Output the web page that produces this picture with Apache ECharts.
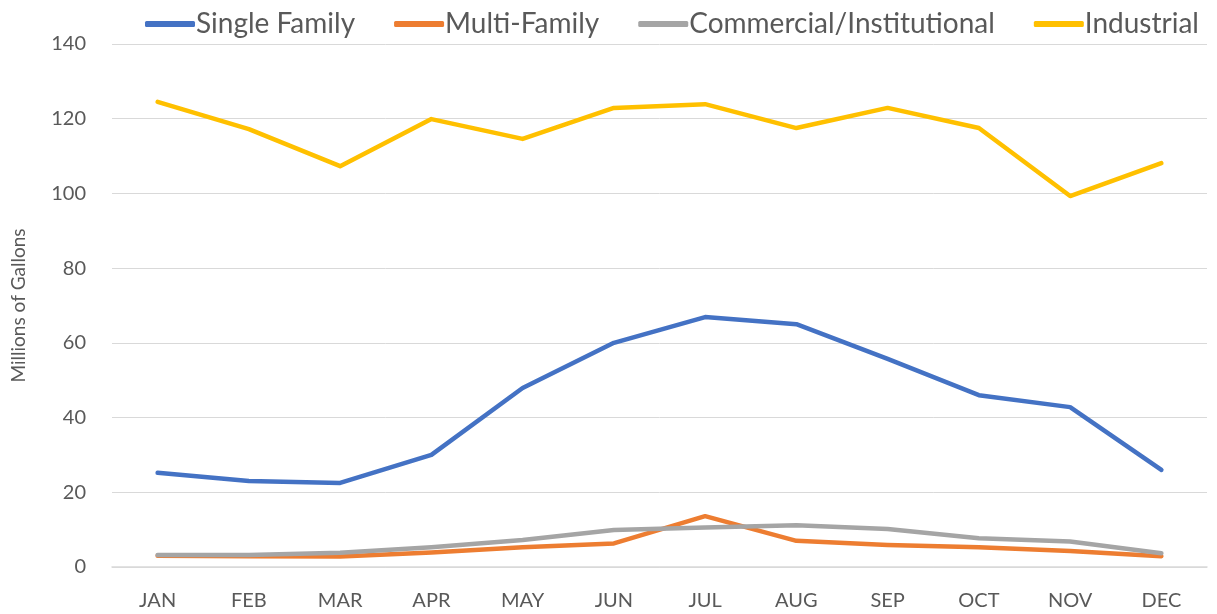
<!DOCTYPE html>
<html><head><meta charset="utf-8">
<script src="https://cdn.jsdelivr.net/npm/echarts@6/dist/echarts.min.js"></script>
<style>html,body{margin:0;padding:0;background:#fff}#c{width:1217px;height:614px}</style>
</head><body><div id="c"></div>
<script>
const months = ['JAN','FEB','MAR','APR','MAY','JUN','JUL','AUG','SEP','OCT','NOV','DEC'];
const singleFamily = [25.2,23.0,22.5,30.0,47.9,60.0,66.9,65.0,55.7,46.0,42.8,26.0];
const multiFamily = [3.0,2.9,2.8,3.9,5.3,6.3,13.6,7.0,5.9,5.3,4.3,2.9];
const commercial = [3.2,3.2,3.8,5.3,7.2,9.9,10.6,11.2,10.2,7.7,6.8,3.7];
const industrial = [124.5,117.2,107.3,119.9,114.6,122.9,123.9,117.5,122.9,117.5,99.3,108.1];
const yTicks = [0,20,40,60,80,100,120,140];
const FONT = 'Lato';
const chart = echarts.init(document.getElementById('c'));
function s(name, data, color){
  return {name, type:'line', data, symbol:'none', smooth:false,
    lineStyle:{width:4.5, color, cap:'round', join:'round'}, itemStyle:{color}};
}
chart.setOption({
  animation:false,
  textStyle:{fontFamily:FONT},
  legend:{top:5, left:140, itemWidth:50, itemHeight:6, itemGap:39,
    icon:'roundRect',
    textStyle:{fontSize:28, color:'#595959', fontFamily:FONT, padding:[0,0,0,-4]}},
  grid:{left:112, right:10, top:44, bottom:47},
  xAxis:{type:'category', data:months, boundaryGap:true,
    axisLine:{lineStyle:{color:'#d9d9d9', width:1.5}}, axisTick:{show:false},
    axisLabel:{fontSize:20, color:'#595959', margin:24, fontFamily:FONT}},
  yAxis:{type:'value', min:yTicks[0], max:yTicks[yTicks.length-1], interval:20,
    name:'Millions of Gallons', nameLocation:'middle', nameGap:84, nameRotate:90,
    nameTextStyle:{fontSize:19, color:'#595959', fontFamily:FONT},
    axisLine:{show:false}, axisTick:{show:false},
    splitLine:{lineStyle:{color:'#d9d9d9', width:1}},
    axisLabel:{fontSize:20, color:'#595959', margin:26, fontFamily:FONT}},
  series:[
    s('Single Family', singleFamily, '#4472c4'),
    s('Multi-Family', multiFamily, '#ed7d31'),
    s('Commercial/Institutional', commercial, '#a5a5a5'),
    s('Industrial', industrial, '#ffc000')
  ]
});
</script></body></html>
